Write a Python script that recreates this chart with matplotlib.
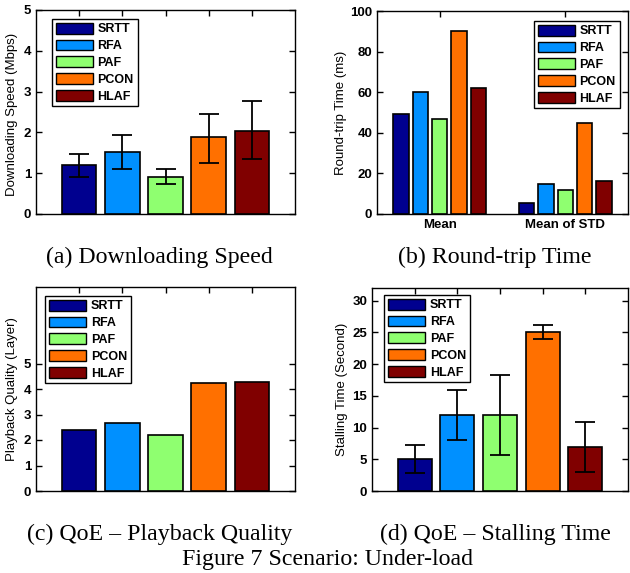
import numpy as np
from matplotlib import pyplot as plt
from matplotlib.patches import Patch

# Алгоритмы и цвета
methods = ['SRTT', 'RFA', 'PAF', 'PCON', 'HLAF']
colors = ['#00008F', '#0090FF', '#8FFF70', '#FF7000', '#800000']

# (a) Скорость загрузки
speed_mean = [1.19, 1.52, 0.91, 1.88, 2.04]
speed_low = [0.91, 1.10, 0.73, 1.26, 1.35]
speed_high = [1.48, 1.94, 1.10, 2.46, 2.76]

# (b) Время RTT
rtt_groups = ['Mean', 'Mean of STD']
rtt_mean = [49.3, 60.2, 47.0, 90.2, 62.0]
rtt_std = [5.5, 15.0, 12.0, 45.0, 16.2]

# (c) Качество воспроизведения
quality = [2.38, 2.67, 2.18, 4.24, 4.29]

# (d) Время задержки
stall_mean = [5.0, 12.0, 12.0, 25.0, 7.0]
stall_low = [2.8, 8.0, 5.7, 24.0, 3.0]
stall_high = [7.3, 15.9, 18.3, 26.1, 10.9]

W, H = 630, 573
label_font = dict(family='Liberation Sans', size=9.5)
cap_font = dict(family='Liberation Serif', size=17.2)


def px_axes(fig, left, top, right, bottom):
    return fig.add_axes([left / W, 1 - bottom / H, (right - left) / W, (bottom - top) / H])


def style(ax):
    ax.tick_params(direction='in', top=True, right=True, length=4, width=1.0)
    for s in ax.spines.values():
        s.set_linewidth(1.0)
    for t in ax.get_yticklabels() + ax.get_xticklabels():
        t.set_fontfamily('Liberation Sans')
        t.set_fontweight('bold')
        t.set_fontsize(9.5)


def legend(fig, x, y):
    handles = [Patch(facecolor=c, edgecolor='black', linewidth=1.0) for c in colors]
    leg = fig.legend(handles, methods, loc='upper left', bbox_to_anchor=(x / W, 1 - y / H),
                     bbox_transform=fig.transFigure, fancybox=False, framealpha=1,
                     edgecolor='black', borderaxespad=0, borderpad=0.3,
                     handlelength=3.0, handleheight=0.95, labelspacing=0.33,
                     handletextpad=0.35, prop=dict(family='Liberation Sans', weight='bold', size=9))
    leg.get_frame().set_linewidth(1.0)


def bars_with_err(ax, mean, low, high):
    x = np.arange(1, len(mean) + 1)
    m = np.array(mean)
    err = np.vstack([m - np.array(low), np.array(high) - m])
    ax.bar(x, m, width=0.8, color=colors, edgecolor='black', linewidth=1.2, zorder=3)
    ax.errorbar(x, m, yerr=err, fmt='none', ecolor='black', elinewidth=1.3,
                capsize=7, capthick=1.3, zorder=4)
    ax.set_xlim(0, 6)
    ax.set_xticks(x)
    ax.set_xticklabels([])


fig = plt.figure(figsize=(W / 100, H / 100), dpi=100)

# (a)
ax1 = px_axes(fig, 36, 10, 295, 214)
bars_with_err(ax1, speed_mean, speed_low, speed_high)
ax1.set_ylim(0, 5)
ax1.set_yticks(range(6))
ax1.set_ylabel('Downloading Speed (Mbps)', **label_font)
ax1.yaxis.set_label_coords(-0.07, 0.49)
style(ax1)
legend(fig, 52, 19)

# (b)
ax2 = px_axes(fig, 377, 11, 628, 214)
n = len(methods)
gw = n / (n + 1.5)
step = gw / n
g = np.arange(1, len(rtt_groups) + 1)
for i in range(n):
    off = -gw / 2 + step * (i + 0.5)
    ax2.bar(g + off, [rtt_mean[i], rtt_std[i]], width=step * 0.8, color=colors[i],
            edgecolor='black', linewidth=1.2, zorder=3)
ax2.set_xlim(0.5, 2.5)
ax2.set_ylim(0, 100)
ax2.set_xticks(g)
ax2.set_xticklabels(rtt_groups)
ax2.set_ylabel('Round-trip Time (ms)', **label_font)
ax2.yaxis.set_label_coords(-0.12, 0.5)
style(ax2)
legend(fig, 534, 21)

# (c)
ax3 = px_axes(fig, 36, 287, 295, 491)
xc = np.arange(1, n + 1)
ax3.bar(xc, quality, width=0.8, color=colors, edgecolor='black', linewidth=1.2, zorder=3)
ax3.set_xlim(0, 6)
ax3.set_xticks(xc)
ax3.set_xticklabels([])
ax3.set_ylim(0, 8)
ax3.set_yticks(range(6))
ax3.set_ylabel('Playback Quality (Layer)', **label_font)
ax3.yaxis.set_label_coords(-0.07, 0.5)
style(ax3)
legend(fig, 45, 296)

# (d)
ax4 = px_axes(fig, 372, 288, 628, 491)
bars_with_err(ax4, stall_mean, stall_low, stall_high)
ax4.set_ylim(0, 32)
ax4.set_yticks(range(0, 31, 5))
ax4.set_ylabel('Stalling Time (Second)', **label_font)
ax4.yaxis.set_label_coords(-0.094, 0.5)
style(ax4)
legend(fig, 384, 295)

# Подписи
fig.text(159 / W, 1 - 257 / H, '(a) Downloading Speed', ha='center', va='center', **cap_font)
fig.text(495 / W, 1 - 257 / H, '(b) Round-trip Time', ha='center', va='center', **cap_font)
fig.text(160 / W, 1 - 534 / H, '(c) QoE \u2013 Playback Quality', ha='center', va='center', **cap_font)
fig.text(495 / W, 1 - 534 / H, '(d) QoE \u2013 Stalling Time', ha='center', va='center', **cap_font)
fig.text(327 / W, 1 - 559 / H, 'Figure 7 Scenario: Under-load', ha='center', va='center', **cap_font)

fig.savefig('out.png', dpi=100)
